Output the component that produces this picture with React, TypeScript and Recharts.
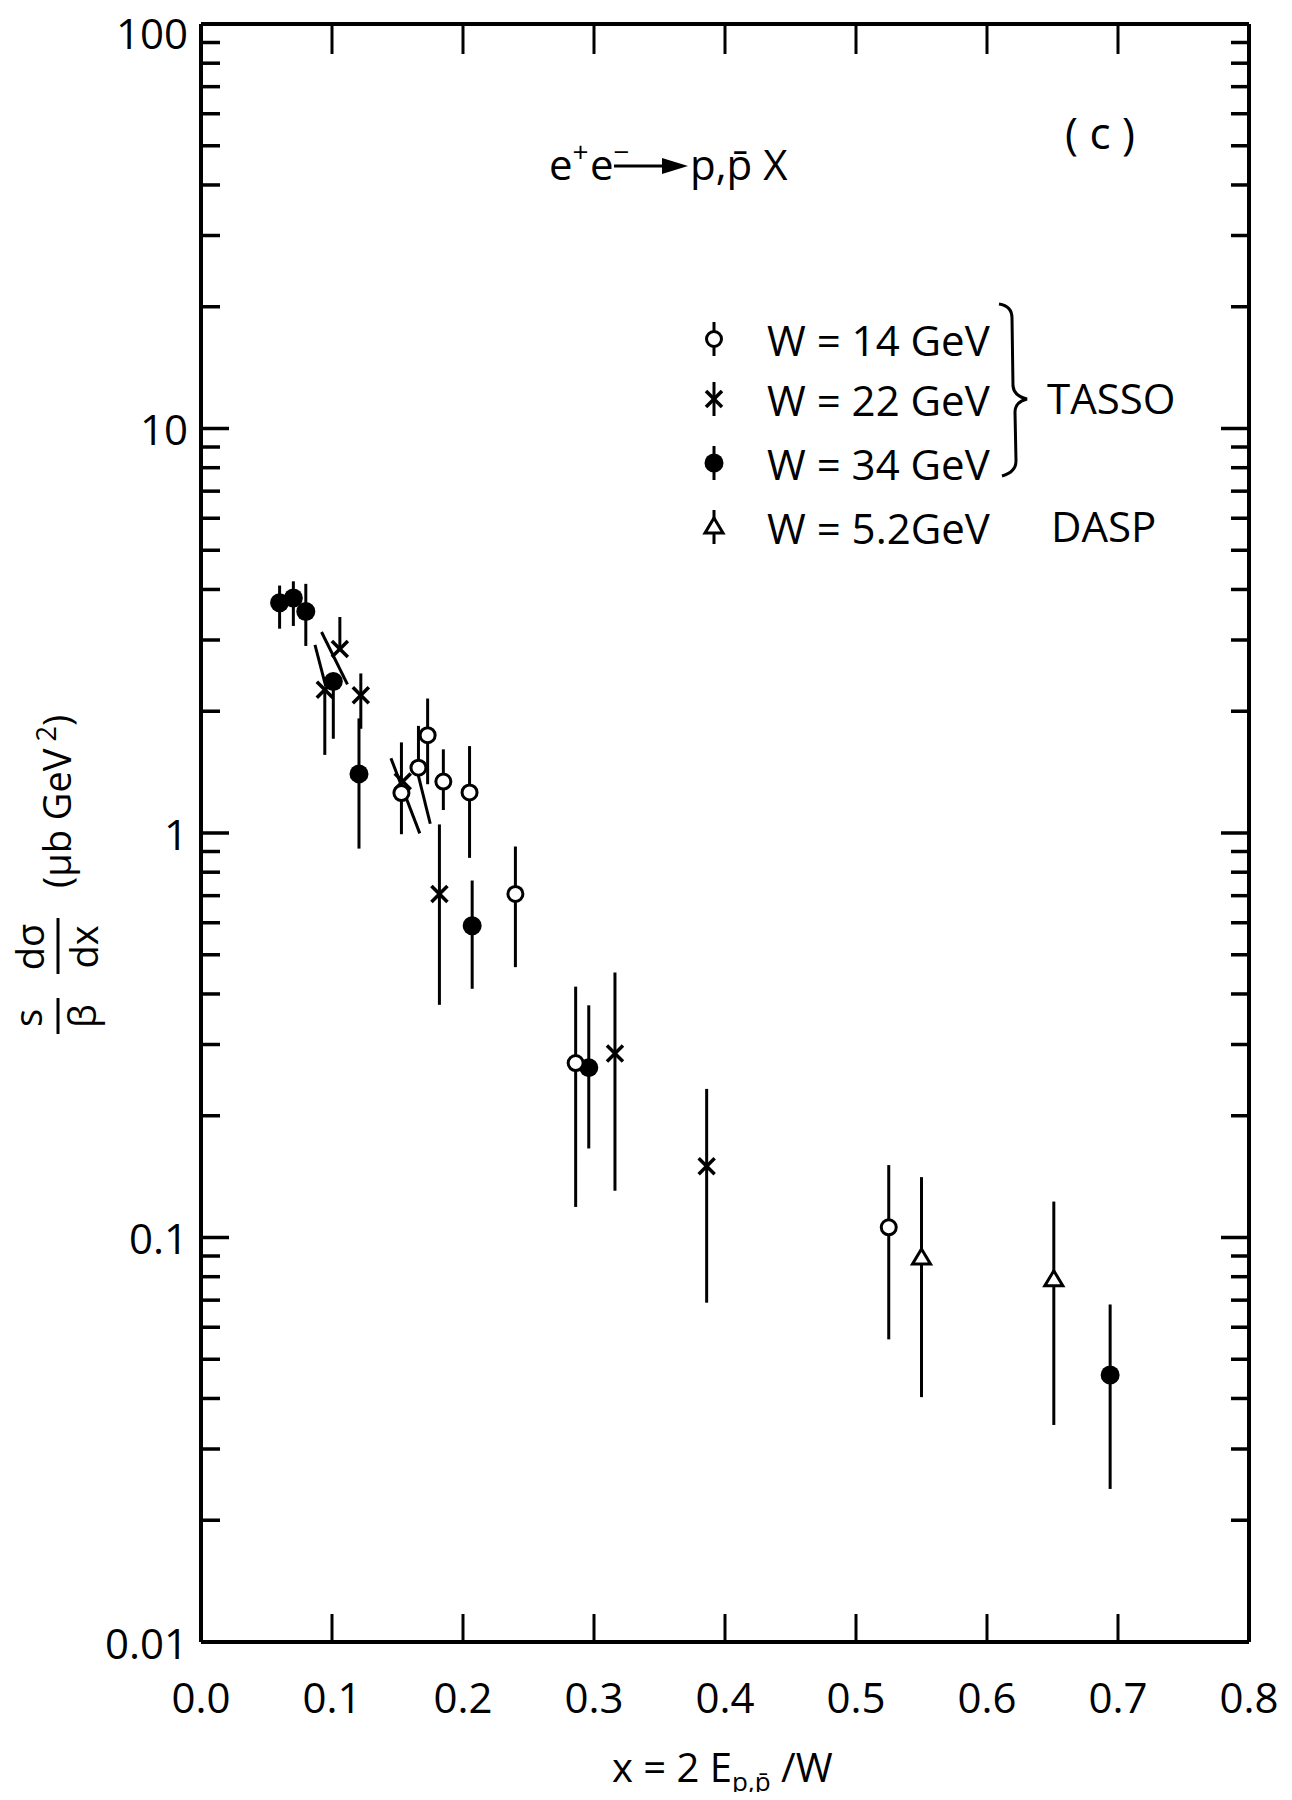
import React from 'react';
import { ScatterChart, Scatter, XAxis, YAxis, ErrorBar, ReferenceLine } from 'recharts';

const FONT = "'Open Sans', 'DejaVu Sans', sans-serif";
const INK = '#000';

// Axis ticks
const X_TICKS = [0, 0.1, 0.2, 0.3, 0.4, 0.5, 0.6, 0.7, 0.8];
const X_TICK_LABELS = ['0.0', '0.1', '0.2', '0.3', '0.4', '0.5', '0.6', '0.7', '0.8'];
const Y_DECADES = [0.01, 0.1, 1, 10, 100];
const Y_DECADE_LABELS = ['0.01', '0.1', '1', '10', '100'];
const Y_MINOR_STEPS = [2, 3, 4, 5, 6, 7, 8, 9];

// TASSO, W = 14 GeV
const W14_X = [0.153, 0.166, 0.173, 0.185, 0.205, 0.240, 0.286, 0.525];
const W14_Y = [1.255, 1.45, 1.745, 1.34, 1.26, 0.707, 0.270, 0.106];
const W14_LO = [0.993, 1.45, 1.32, 1.14, 0.868, 0.466, 0.119, 0.056];
const W14_HI = [1.675, 1.84, 2.15, 1.61, 1.64, 0.926, 0.417, 0.151];

// TASSO, W = 22 GeV
const W22_X = [0.0945, 0.106, 0.122, 0.154, 0.182, 0.316, 0.386];
const W22_Y = [2.26, 2.85, 2.19, 1.34, 0.707, 0.285, 0.150];
const W22_LO = [1.56, 2.85, 1.81, 1.34, 0.376, 0.1305, 0.069];
const W22_HI = [2.26, 3.42, 2.48, 1.34, 1.05, 0.452, 0.233];

// TASSO, W = 34 GeV
const W34_X = [0.060, 0.0705, 0.080, 0.101, 0.1206, 0.207, 0.296, 0.694];
const W34_Y = [3.71, 3.81, 3.53, 2.37, 1.40, 0.590, 0.263, 0.0457];
const W34_LO = [3.20, 3.25, 2.90, 1.71, 0.915, 0.412, 0.166, 0.0239];
const W34_HI = [4.09, 4.19, 4.13, 2.37, 1.92, 0.763, 0.375, 0.0683];

// DASP, W = 5.2 GeV
const DASP_X = [0.550, 0.651];
const DASP_Y = [0.089, 0.0786];
const DASP_LO = [0.0403, 0.0344];
const DASP_HI = [0.141, 0.1227];

// Error bars printed at a slant in the crowded low-x region
const SLANT_FROM_X = [0.092, 0.087, 0.145, 0.1656];
const SLANT_FROM_Y = [3.14, 2.92, 1.53, 1.40];
const SLANT_TO_X = [0.1118, 0.0953, 0.167, 0.175];
const SLANT_TO_Y = [2.33, 2.30, 0.998, 1.054];

const rows = (xs: number[], ys: number[], lo: number[], hi: number[]) =>
  xs.map((x, i) => ({ x, y: ys[i], err: [ys[i] - lo[i], hi[i] - ys[i]] }));

const w14 = rows(W14_X, W14_Y, W14_LO, W14_HI);
const w22 = rows(W22_X, W22_Y, W22_LO, W22_HI);
const w34 = rows(W34_X, W34_Y, W34_LO, W34_HI);
const dasp = rows(DASP_X, DASP_Y, DASP_LO, DASP_HI);

const Y_TICKS: number[] = [];
Y_DECADES.forEach((d, i) => {
  Y_TICKS.push(d);
  if (i < Y_DECADES.length - 1) Y_MINOR_STEPS.forEach((m) => Y_TICKS.push(Number((d * m).toPrecision(3))));
});

const decadeIndex = (v: number) => Y_DECADES.findIndex((d) => Math.abs(d - v) < d * 1e-6);

// Markers
const OpenCircle = ({ cx, cy }: any) => (
  <circle cx={cx} cy={cy} r={7.5} fill="#fff" stroke={INK} strokeWidth={3} />
);
const FilledCircle = ({ cx, cy }: any) => <circle cx={cx} cy={cy} r={9.5} fill={INK} />;
const Cross = ({ cx, cy }: any) => {
  const s = 8;
  return (
    <g stroke={INK} strokeWidth={3.5} strokeLinecap="butt">
      <line x1={cx - s} y1={cy - s} x2={cx + s} y2={cy + s} />
      <line x1={cx - s} y1={cy + s} x2={cx + s} y2={cy - s} />
    </g>
  );
};
const Triangle = ({ cx, cy }: any) => (
  <path
    d={`M${cx},${cy - 9} L${cx + 9},${cy + 6} L${cx - 9},${cy + 6} Z`}
    fill="#fff"
    stroke={INK}
    strokeWidth={3}
    strokeLinejoin="miter"
  />
);

// Axis tick renderers (ticks point into the frame)
const LeftTick = ({ x, y, payload }: any) => {
  const i = decadeIndex(payload.value);
  const len = i >= 0 ? 28 : 19;
  // keep the topmost label clear of the page edge
  const labelY = i === Y_DECADES.length - 1 ? y + 8 : y;
  return (
    <g>
      <line x1={x} y1={y} x2={x + len} y2={y} stroke={INK} strokeWidth={3.5} />
      {i >= 0 && (
        <text x={x - 13} y={labelY} textAnchor="end" dominantBaseline="central" fontSize={42} fontFamily={FONT} fill={INK}>
          {Y_DECADE_LABELS[i]}
        </text>
      )}
    </g>
  );
};
const RightTick = ({ x, y, payload }: any) => {
  const i = decadeIndex(payload.value);
  const len = i >= 0 ? 28 : 18;
  return <line x1={x} y1={y} x2={x - len} y2={y} stroke={INK} strokeWidth={3.5} />;
};
const BottomTick = ({ x, y, index }: any) => {
  const inner = index > 0 && index < X_TICKS.length - 1;
  return (
    <g>
      {inner && <line x1={x} y1={y} x2={x} y2={y - 28} stroke={INK} strokeWidth={3} />}
      <text x={x} y={y + 54} textAnchor="middle" dominantBaseline="central" fontSize={42} fontFamily={FONT} fill={INK}>
        {X_TICK_LABELS[index]}
      </text>
    </g>
  );
};
const TopTick = ({ x, y, index }: any) => {
  const inner = index > 0 && index < X_TICKS.length - 1;
  return inner ? <line x1={x} y1={y} x2={x} y2={y + 30} stroke={INK} strokeWidth={3} /> : <g />;
};

const AXIS_LINE = { stroke: INK, strokeWidth: 4 };

const LEGEND_ROWS = [
  { label: 'W = 14 GeV', Marker: OpenCircle },
  { label: 'W = 22 GeV', Marker: Cross },
  { label: 'W = 34 GeV', Marker: FilledCircle },
  { label: 'W = 5.2GeV', Marker: Triangle },
];

function Legend() {
  const rowY = [339, 399, 463, 527];
  return (
    <g>
      {LEGEND_ROWS.map(({ label, Marker }, i) => (
        <g key={label}>
          <line x1={714} y1={rowY[i] - 17} x2={714} y2={rowY[i] + 17} stroke={INK} strokeWidth={3} />
          <Marker cx={714} cy={rowY[i]} />
          <text x={767} y={rowY[i]} dominantBaseline="central" fontSize={42} fontFamily={FONT} fill={INK}>
            {label}
          </text>
        </g>
      ))}
      <path
        d="M999,304 Q1012,306 1012,318 L1013,386 Q1014,396 1027,399 Q1015,402 1015,412 L1016,461 Q1016,472 1002,476"
        fill="none"
        stroke={INK}
        strokeWidth={3}
      />
      <text x={1047} y={397} dominantBaseline="central" fontSize={42} fontFamily={FONT} fill={INK}>
        TASSO
      </text>
      <text x={1051} y={525} dominantBaseline="central" fontSize={42} fontFamily={FONT} fill={INK}>
        DASP
      </text>
    </g>
  );
}

function Annotations() {
  return (
    <svg width={1292} height={1800} style={{ position: 'absolute', left: 0, top: 0, pointerEvents: 'none' }}>
      {/* reaction */}
      <text x={549} y={180} fontSize={42} fontFamily={FONT} fill={INK}>
        e<tspan dy={-18} fontSize={28}>+</tspan>
        <tspan x={590} dy={18}>e</tspan>
        <tspan dy={-18} fontSize={28}>{'\u2212'}</tspan>
      </text>
      <line x1={614} y1={166} x2={668} y2={166} stroke={INK} strokeWidth={3} />
      <path d="M662,158 L688,166 L662,174 Z" fill={INK} />
      <text x={690} y={180} fontSize={42} fontFamily={FONT} fill={INK}>
        {'p,p\u0304 X'}
      </text>
      <text x={1100} y={132} textAnchor="middle" dominantBaseline="central" fontSize={44} fontFamily={FONT} fill={INK}>
        ( c )
      </text>
      <Legend />
      {/* y-axis title */}
      <g transform="translate(4,1100) rotate(-90)" fontFamily={FONT} fill={INK}>
        <text x={82} y={38} textAnchor="middle" fontSize={38}>s</text>
        <line x1={66} y1={54} x2={102} y2={54} stroke={INK} strokeWidth={3} />
        <text x={84} y={92} textAnchor="middle" fontSize={38}>{'\u03b2'}</text>
        <text x={153} y={40} textAnchor="middle" fontSize={38}>{'d\u03c3'}</text>
        <line x1={126} y1={54} x2={182} y2={54} stroke={INK} strokeWidth={3} />
        <text x={153} y={94} textAnchor="middle" fontSize={38}>dx</text>
        <text x={212} y={67} fontSize={38}>
          {'(\u03bcb GeV'}
          <tspan dy={-15} fontSize={27}>{'\u00a02'}</tspan>
          <tspan dy={15}>)</tspan>
        </text>
      </g>
      {/* x-axis title */}
      <text x={612} y={1782} fontSize={40} fontFamily={FONT} fill={INK}>
        x = 2 E<tspan dy={9} fontSize={26}>{'p,p\u0304'}</tspan>
        <tspan dy={-9}>{'\u00a0/W'}</tspan>
      </text>
    </svg>
  );
}

export default function App() {
  return (
    <div style={{ margin: -8, position: 'relative', width: 1292, height: 1800, background: '#fff' }}>
      <ScatterChart width={1292} height={1800} margin={{ top: 23, right: 42, bottom: 157, left: 200 }}>
        <XAxis
          xAxisId="b"
          type="number"
          dataKey="x"
          domain={[0, 0.8]}
          ticks={X_TICKS}
          interval={0}
          height={1}
          tickSize={0}
          tickMargin={0}
          tickLine={false}
          axisLine={AXIS_LINE}
          tick={(p: any) => <BottomTick {...p} />}
          allowDataOverflow
        />
        <XAxis
          xAxisId="t"
          orientation="top"
          type="number"
          dataKey="x"
          domain={[0, 0.8]}
          ticks={X_TICKS}
          interval={0}
          height={1}
          tickSize={0}
          tickMargin={0}
          tickLine={false}
          axisLine={AXIS_LINE}
          tick={(p: any) => <TopTick {...p} />}
          allowDataOverflow
        />
        <YAxis
          yAxisId="l"
          type="number"
          dataKey="y"
          scale="log"
          domain={[0.01, 100]}
          ticks={Y_TICKS}
          interval={0}
          width={1}
          tickSize={0}
          tickMargin={0}
          tickLine={false}
          axisLine={AXIS_LINE}
          tick={(p: any) => <LeftTick {...p} />}
          allowDataOverflow
        />
        <YAxis
          yAxisId="r"
          orientation="right"
          type="number"
          dataKey="y"
          scale="log"
          domain={[0.01, 100]}
          ticks={Y_TICKS}
          interval={0}
          width={1}
          tickSize={0}
          tickMargin={0}
          tickLine={false}
          axisLine={AXIS_LINE}
          tick={(p: any) => <RightTick {...p} />}
          allowDataOverflow
        />
        {SLANT_FROM_X.map((x1, i) => (
          <ReferenceLine
            key={`slant-${i}`}
            xAxisId="b"
            yAxisId="l"
            segment={[
              { x: x1, y: SLANT_FROM_Y[i] },
              { x: SLANT_TO_X[i], y: SLANT_TO_Y[i] },
            ]}
            stroke={INK}
            strokeWidth={3}
            ifOverflow="visible"
          />
        ))}
        <Scatter name="W = 22 GeV" data={w22} xAxisId="b" yAxisId="l" shape={Cross} isAnimationActive={false}>
          <ErrorBar dataKey="err" direction="y" width={0} stroke={INK} strokeWidth={3} />
        </Scatter>
        <Scatter name="W = 34 GeV" data={w34} xAxisId="b" yAxisId="l" shape={FilledCircle} isAnimationActive={false}>
          <ErrorBar dataKey="err" direction="y" width={0} stroke={INK} strokeWidth={3} />
        </Scatter>
        <Scatter name="W = 5.2 GeV" data={dasp} xAxisId="b" yAxisId="l" shape={Triangle} isAnimationActive={false}>
          <ErrorBar dataKey="err" direction="y" width={0} stroke={INK} strokeWidth={3} />
        </Scatter>
        <Scatter name="W = 14 GeV" data={w14} xAxisId="b" yAxisId="l" shape={OpenCircle} isAnimationActive={false}>
          <ErrorBar dataKey="err" direction="y" width={0} stroke={INK} strokeWidth={3} />
        </Scatter>
      </ScatterChart>
      <Annotations />
    </div>
  );
}
